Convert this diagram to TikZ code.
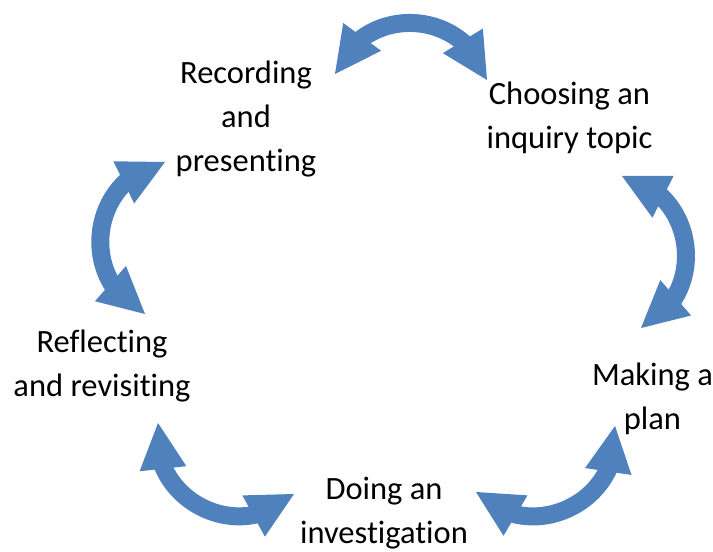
\documentclass[tikz,border=0pt]{standalone}
\usepackage{fontspec}
\setmainfont{Carlito}[Ligatures=NoCommon]
\usetikzlibrary{arrows.meta,bending}

\definecolor{cycleblue}{HTML}{4F81BD}

\begin{document}
\begin{tikzpicture}[x=1pt,y=1pt] % цикл
\tikzstyle{stage} = [align=center, anchor=base, inner sep=0pt, font=\fontsize{32.5}{44}\selectfont] % stage label style, base = last line
\tikzstyle{twoway} = [draw=cycleblue, line width=18pt, {Triangle[width=47pt,length=46pt,flex,line width=0pt]}-{Triangle[width=47pt,length=46pt,flex,line width=0pt]}, bend left=71, looseness=1.28] % double arrow style

\useasboundingbox (0,0) rectangle (713,552);

\node[stage] (rec) at (246,380) {Recording\\and\\presenting}; % стадии
\node[stage] (cho) at (569.5,403) {Choosing an\\inquiry topic};
\node[stage] (mak) at (652.5,122) {Making a\\plan};
\node[stage] (doi) at (384,8) {Doing an\\investigation};
\node[stage] (ref) at (102,155) {Reflecting\\and revisiting};

\coordinate (a1) at (335,478); % концы стрелок
\coordinate (b1) at (487,472);
\coordinate (a2) at (622,376);
\coordinate (b2) at (641,224);
\coordinate (a3) at (615,126);
\coordinate (b3) at (476,60);
\coordinate (a4) at (294,58);
\coordinate (b4) at (158,129);
\coordinate (a5) at (145,238);
\coordinate (b5) at (165,390);

\draw[twoway] (a1) to (b1);
\draw[twoway] (a2) to (b2);
\draw[twoway] (a3) to (b3);
\draw[twoway] (a4) to (b4);
\draw[twoway] (a5) to (b5);
\end{tikzpicture}
\end{document}
